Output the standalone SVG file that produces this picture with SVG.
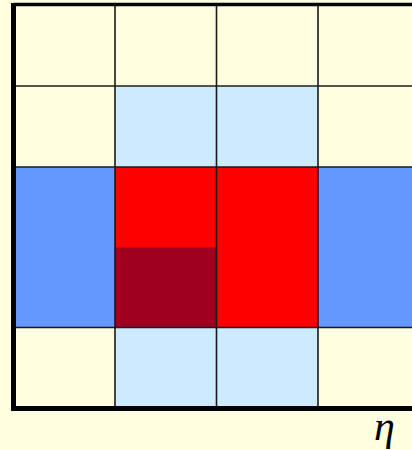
<svg xmlns="http://www.w3.org/2000/svg" width="412" height="450" viewBox="0 0 412 450">
<style>
.bg{fill:#FFFFE0}
.lb{fill:#CCEBFF}
.bl{fill:#6699FF}
.rd{fill:#FF0000}
.dr{fill:#A00020}
.grid{stroke:#1a1a1a;stroke-width:1.6;fill:none}
.frame{stroke:#000;stroke-width:5;fill:none}
.lbl{font-family:"Liberation Serif",serif;font-style:italic;font-size:42px;fill:#000}
</style>
<rect class="bg" x="0" y="0" width="412" height="450"/>
<g id="cells">
<rect class="lb" x="115" y="86.5" width="203" height="80.5"/>
<rect class="lb" x="115" y="328" width="203" height="80.5"/>
<rect class="bl" x="13.5" y="167" width="101.5" height="161"/>
<rect class="bl" x="318" y="167" width="101.5" height="161"/>
<rect class="rd" x="115" y="167" width="203" height="161"/>
<rect class="dr" x="115" y="247.5" width="101.5" height="80.5"/>
</g>
<g id="grid" class="grid">
<line x1="115" y1="5" x2="115" y2="408.5"/>
<line x1="216.5" y1="5" x2="216.5" y2="408.5"/>
<line x1="318" y1="5" x2="318" y2="408.5"/>
<line x1="13.5" y1="86" x2="412" y2="86"/>
<line x1="13.5" y1="167" x2="412" y2="167"/>
<line x1="13.5" y1="327.5" x2="412" y2="327.5"/>
</g>
<g id="frame">
<line class="frame" x1="13.5" y1="4.5" x2="412" y2="4.5" style="stroke-width:3.5"/>
<line class="frame" x1="13.5" y1="3" x2="13.5" y2="411"/>
<line class="frame" x1="11" y1="408.5" x2="412" y2="408.5"/>
</g>
<text class="lbl" x="374" y="440">η</text>
</svg>
